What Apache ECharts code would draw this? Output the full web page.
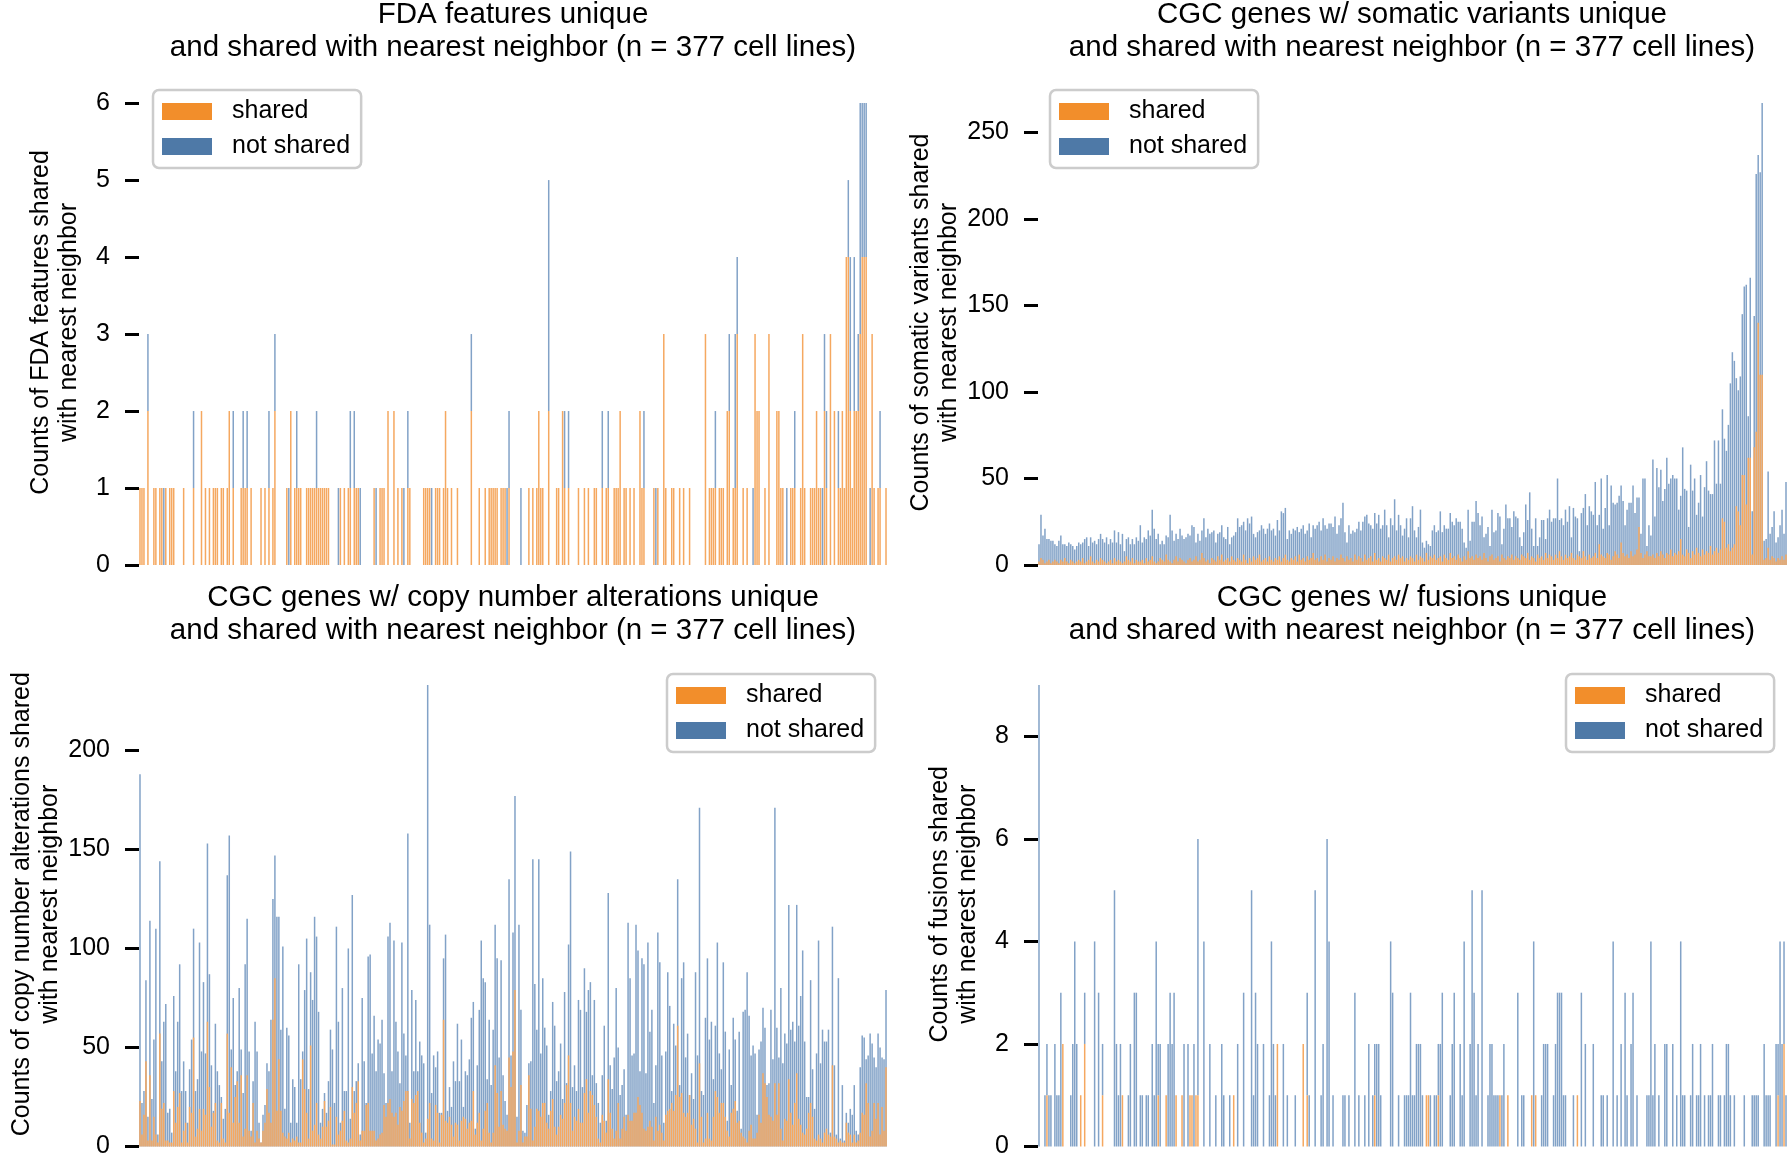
<!DOCTYPE html>
<html><head><meta charset="utf-8">
<script src="https://cdn.jsdelivr.net/npm/echarts@6/dist/echarts.min.js"></script>
<style>html,body{margin:0;padding:0;background:#fff}#c{width:1787px;height:1159px}</style>
</head><body><div id="c"></div>
<script>
// ---------- DATA ----------
// Panel 1: FDA features (stacked: shared + not shared)
const fdaShared = [
1,1,1,0,2,0,0,1,1,0,1,1,0,1,0,1,1,1,0,0,
0,0,1,0,0,0,0,1,0,0,0,2,0,1,0,1,0,1,1,1,
0,1,1,0,1,2,0,1,0,0,0,1,1,1,1,0,1,0,0,0,
0,1,0,1,0,1,0,1,2,0,0,0,0,0,1,0,2,0,1,1,
1,1,0,0,1,1,1,1,1,1,1,1,1,1,1,1,0,0,0,0,
0,1,0,1,0,1,1,0,1,1,1,0,0,0,0,0,0,0,1,0,
0,1,1,1,0,2,0,0,2,0,1,0,1,0,0,1,1,0,0,0,
0,0,0,1,1,1,1,0,0,1,1,1,0,1,2,1,0,1,0,0,
1,0,0,0,0,0,0,2,0,0,0,1,0,0,1,0,1,1,1,1,
1,0,1,1,1,0,1,0,0,0,0,0,0,0,0,0,1,0,1,0,
1,2,1,1,0,0,2,0,0,0,1,1,0,2,1,0,1,0,0,0,
0,1,0,0,1,0,1,0,0,1,1,0,0,1,0,1,1,0,0,1,
1,1,2,0,1,1,0,1,0,1,0,0,2,1,1,0,0,0,0,1,
0,1,0,0,3,1,0,0,1,1,0,0,1,0,1,0,0,1,0,0,
0,0,0,0,0,3,0,1,1,1,1,0,1,1,1,0,2,2,0,1,
1,3,0,0,1,0,1,0,0,0,3,2,2,0,0,1,0,3,0,0,
0,2,2,1,1,0,0,0,1,1,1,0,0,1,3,1,0,0,1,1,
1,2,1,1,0,2,1,0,3,0,2,0,1,1,2,1,4,4,2,1,
2,2,2,3,4,4,4,0,0,3,1,0,1,1,0,0,1];
const fdaNotShared = [
0,0,0,0,1,0,0,0,0,0,0,0,1,0,0,0,0,0,0,0,
0,0,0,0,0,0,0,1,0,0,0,0,0,0,0,0,0,0,0,0,
0,0,0,0,0,0,0,1,0,0,0,0,1,0,1,0,0,0,0,0,
0,0,0,0,0,1,0,0,1,0,0,0,0,0,0,1,0,0,0,1,
0,0,0,0,0,0,0,0,0,1,0,0,0,0,0,0,0,0,0,0,
1,0,0,0,0,0,1,0,1,0,0,1,0,0,0,0,0,0,0,1,
0,0,0,0,0,0,0,0,0,0,0,0,0,1,0,1,0,0,0,0,
0,0,0,0,0,0,0,1,0,0,0,0,0,0,0,0,0,0,0,0,
0,0,0,0,0,0,0,1,0,0,0,0,0,0,0,0,0,0,0,0,
0,0,0,0,0,1,1,0,0,0,0,0,1,0,0,0,0,0,0,0,
0,0,0,0,0,0,3,0,0,0,0,0,0,0,1,0,1,0,0,0,
0,0,0,0,0,0,0,0,0,0,0,0,0,1,0,0,1,0,0,0,
0,0,0,0,0,0,0,0,0,0,0,0,0,0,1,0,0,0,0,0,
1,0,0,0,0,0,0,0,0,0,0,0,0,0,0,0,0,0,0,0,
0,0,0,0,0,0,0,0,0,0,1,0,0,0,0,0,0,1,0,0,
2,1,0,0,0,0,0,0,0,1,0,0,0,0,0,0,0,0,0,0,
0,0,0,0,0,0,1,0,0,0,1,0,0,0,0,0,0,0,0,0,
0,0,0,0,1,1,1,0,0,0,0,0,1,0,0,0,0,1,2,0,
2,0,1,3,2,2,2,0,1,0,0,0,0,1,0,0,0];

// Panel 2: CGC genes w/ somatic variants (bar total height, and shared part)
const somTotal = [
12,29,17,21,15,15,14,14,12,11,14,17,12,12,11,13,12,11,9,11,
13,12,13,15,16,11,16,13,14,12,15,18,15,13,16,12,15,13,20,13,
19,12,18,8,15,16,12,15,12,16,14,23,13,16,15,20,17,32,21,15,
18,12,14,12,17,16,29,20,14,18,15,21,17,15,16,18,17,23,22,13,
18,14,20,27,16,21,18,19,20,13,18,19,23,16,15,22,12,16,17,19,
27,22,23,25,20,27,24,28,18,16,19,20,23,21,18,21,24,20,21,17,
26,20,31,30,33,15,20,18,21,20,22,19,21,23,18,20,24,16,23,21,
23,25,20,27,23,21,24,24,22,28,18,23,27,36,19,13,23,18,20,19,
21,25,20,25,28,29,24,23,21,30,24,29,21,23,32,23,16,27,23,38,
20,29,23,17,21,27,16,27,34,20,16,22,32,13,10,14,12,11,20,23,
19,20,31,19,23,21,21,30,25,23,27,25,25,21,13,10,32,14,25,25,
37,30,23,28,16,18,22,11,32,19,20,30,28,12,21,35,27,27,22,31,
28,27,16,11,19,35,26,42,21,11,27,11,16,26,26,15,27,32,25,27,
27,50,26,27,23,32,25,34,16,33,28,27,8,30,33,41,23,34,31,29,
48,23,29,50,21,33,52,23,46,36,35,36,40,46,37,23,32,36,36,46,
30,39,39,18,50,50,11,23,17,61,28,56,45,55,37,44,62,47,50,52,
50,50,32,40,68,44,43,22,58,43,50,29,36,52,28,45,60,43,41,41,
72,47,72,47,90,73,66,81,105,123,118,108,101,109,145,161,162,86,166,31,
144,226,237,227,267,14,15,54,18,22,31,13,16,23,32,18,48];
const somShared = [
2,4,3,1,2,3,1,2,3,2,1,3,2,4,2,1,3,2,1,2,
3,2,4,1,2,3,5,2,1,3,2,4,3,2,1,2,3,1,4,2,
3,2,1,2,5,3,2,4,1,3,2,2,3,1,4,2,3,5,2,1,
2,4,3,2,6,3,2,1,3,5,2,4,3,2,1,3,4,2,3,5,
2,3,7,4,2,3,1,4,3,2,5,3,6,2,3,4,2,5,3,2,
4,3,2,6,3,1,4,2,5,3,4,6,2,3,4,2,5,3,2,4,
3,5,2,4,6,3,2,4,3,5,2,6,3,4,2,5,3,4,7,3,
4,2,5,3,6,2,4,3,5,2,4,3,6,4,2,5,3,4,2,6,
3,5,4,2,6,3,4,5,2,7,3,4,2,5,4,3,6,2,4,5,
3,6,4,5,2,4,3,5,4,2,6,3,5,4,2,7,3,5,4,6,
3,4,5,2,6,4,3,7,4,5,3,6,4,2,5,3,8,4,5,3,
6,4,5,3,7,4,2,5,6,3,4,5,2,6,4,3,5,4,6,3,
5,4,3,6,5,4,7,3,5,4,2,6,4,5,3,7,4,6,5,3,
6,4,8,5,3,6,4,5,7,4,3,6,5,4,8,5,3,6,4,5,
7,4,12,6,5,4,7,6,3,5,8,6,4,13,7,5,6,4,8,5,
6,9,22,7,4,6,8,5,5,6,4,7,5,8,6,4,7,6,9,5,
7,6,8,15,6,5,9,7,4,8,6,10,7,5,9,6,8,7,11,6,
8,10,7,9,27,25,10,12,8,10,12,34,31,23,52,52,35,62,62,6,
68,77,140,110,110,3,4,10,3,5,4,2,4,3,5,3,6];

// Panel 3: CGC genes w/ copy number alterations (bar total height, and shared part)
const cnaTotal = [
188,22,28,84,15,114,24,54,110,6,144,43,63,72,17,19,7,76,38,63,
92,28,43,28,12,39,54,110,28,34,103,48,83,47,153,87,41,18,62,38,
31,25,14,19,137,157,49,75,31,38,80,49,27,92,115,48,8,33,63,48,
12,2,16,21,42,38,64,125,147,116,116,59,101,19,60,56,12,34,30,12,
92,34,48,79,105,29,88,74,116,106,68,12,19,27,17,33,59,49,22,111,
63,12,80,28,28,100,14,127,28,33,42,6,75,43,22,96,97,47,66,38,
54,52,64,37,22,106,113,38,104,63,48,32,103,57,46,158,12,79,38,74,
38,53,46,42,7,233,112,27,46,40,48,17,17,95,107,18,30,20,43,33,
62,33,54,20,38,36,44,65,73,9,41,69,104,85,83,34,64,31,59,112,
95,45,94,36,23,16,135,46,108,177,15,112,69,8,7,21,42,43,145,82,
59,145,47,85,60,51,16,28,73,61,33,38,52,24,78,32,102,149,30,41,
28,74,69,30,90,68,79,83,36,74,32,22,12,36,61,13,128,41,29,45,
80,50,26,31,39,16,113,85,46,47,112,99,38,95,92,37,103,58,69,22,
41,108,93,46,12,48,88,71,28,62,51,135,31,85,93,45,57,26,37,24,
88,46,171,28,26,65,95,54,63,34,61,103,47,39,93,58,13,49,31,65,
54,18,58,9,68,69,88,66,46,51,47,16,49,53,70,60,31,32,69,44,
171,60,45,80,42,57,52,122,59,63,53,122,61,76,99,53,25,25,84,39,
19,47,104,42,59,53,53,59,7,111,41,6,85,4,31,3,17,12,19,16,
31,8,6,40,56,55,44,46,57,52,45,40,57,50,45,44,79];
const cnaShared = [
23,6,16,43,3,36,3,15,6,2,57,19,22,3,3,2,2,28,12,20,
27,2,8,12,2,20,17,55,5,9,19,8,19,16,63,30,10,17,22,3,
2,22,4,2,57,17,40,12,25,33,12,36,5,9,36,8,5,22,2,8,
4,2,8,12,29,17,12,64,85,18,44,18,7,5,4,7,2,4,3,5,
2,2,44,29,17,4,51,8,11,22,6,4,10,23,10,13,20,1,1,15,
6,8,13,18,3,2,4,30,17,22,33,3,8,8,21,22,8,8,8,3,
4,6,7,21,15,22,24,17,15,17,11,20,18,23,28,28,4,24,22,26,
28,12,7,2,4,14,22,4,3,21,17,2,16,64,13,12,15,11,5,12,
11,3,13,15,14,9,12,13,28,6,12,17,3,9,18,22,7,2,7,41,
27,10,28,11,9,8,45,30,48,79,2,8,31,2,5,5,36,19,3,10,
19,18,15,22,22,12,9,18,24,10,6,10,16,14,22,31,46,22,8,15,
13,19,12,12,27,34,17,28,26,21,15,4,2,16,13,7,34,17,9,4,
8,22,4,9,15,8,16,13,13,17,17,25,21,17,9,8,10,13,10,3,
15,8,11,7,3,16,18,19,22,18,26,61,25,27,17,15,17,26,11,14,
9,2,42,15,2,4,17,4,3,15,28,25,17,22,22,15,8,5,17,19,
23,12,13,7,5,4,2,8,11,4,4,7,16,12,37,32,25,16,15,13,
32,16,32,9,3,14,13,34,17,11,22,37,14,11,7,6,9,17,22,15,
4,3,6,4,2,7,9,6,5,41,5,4,2,3,2,2,12,7,6,2,
6,2,3,7,17,16,32,22,5,8,22,14,22,6,20,8,40];

// Panel 4: CGC genes w/ fusions (stacked: shared + not shared)
const fusShared = [
0,0,0,0,1,0,0,0,0,0,0,0,2,0,0,0,0,0,0,0,
0,1,0,2,0,0,0,0,0,0,0,0,1,0,0,0,0,0,0,0,
0,0,1,0,0,0,0,0,0,0,0,0,0,0,0,0,0,0,0,0,
1,0,0,0,1,0,0,0,0,1,0,0,1,0,0,0,1,1,0,1,
1,0,0,0,0,0,0,0,0,0,0,0,0,0,0,0,0,0,1,0,
0,0,0,0,0,0,0,0,0,0,0,0,0,0,0,0,0,0,0,0,
2,0,0,0,0,0,0,0,0,0,0,0,0,2,0,1,0,0,0,0,
0,0,0,0,0,0,0,0,0,0,0,0,0,0,0,0,0,0,0,0,
0,0,0,0,0,0,0,0,0,1,0,0,0,0,0,0,0,0,0,0,
0,0,0,0,0,0,0,0,0,0,0,0,0,0,0,1,1,0,0,0,
0,1,0,0,0,0,0,0,0,0,0,0,0,0,0,0,0,0,0,0,
0,0,0,0,0,0,0,0,0,0,0,0,1,0,0,0,1,0,0,0,
0,0,0,0,0,0,0,0,1,0,1,0,0,0,0,0,0,0,0,0,
0,0,0,0,0,0,0,0,0,0,0,1,0,0,0,0,0,0,0,0,
0,0,0,0,0,0,0,0,0,0,0,0,0,0,0,0,0,0,0,0,
0,0,0,0,0,0,0,0,0,0,0,0,0,0,0,0,0,0,0,0,
0,0,0,0,0,0,0,0,0,0,0,0,0,0,0,0,0,0,0,0,
0,0,0,0,0,0,0,0,0,0,0,0,0,0,0,0,0,0,0,0,
0,0,0,0,0,0,0,0,0,0,0,0,1,0,0,2,0];
const fusNotShared = [
9,0,0,1,1,1,1,0,2,1,1,3,0,0,0,0,1,2,4,2,
0,0,0,1,0,0,0,0,4,0,3,0,1,0,0,0,0,0,5,2,
1,2,0,0,0,1,2,0,3,3,0,1,1,0,1,1,0,2,1,4,
1,2,0,0,0,2,3,2,3,0,0,0,0,2,0,2,0,0,2,0,
5,0,0,4,0,0,2,0,0,1,0,0,2,1,0,0,1,0,0,0,
2,0,0,3,0,0,0,5,1,3,2,0,0,2,0,0,1,4,2,1,
0,0,0,2,0,1,0,0,0,1,0,0,0,0,0,2,1,0,0,5,
0,0,1,2,0,6,4,0,1,0,0,0,0,1,1,0,1,0,0,3,
0,1,0,0,1,0,2,0,1,1,2,2,1,0,0,0,0,4,3,0,
0,1,0,0,1,1,1,3,1,1,2,2,2,1,0,0,0,1,0,1,
1,1,2,3,0,0,0,1,2,3,0,0,2,1,4,0,0,2,5,3,
1,2,0,5,0,0,1,2,2,1,1,1,0,1,2,0,0,0,0,0,
0,3,0,1,1,0,0,0,0,4,0,0,0,1,2,2,2,0,0,1,
2,3,3,3,1,1,0,0,0,1,0,0,0,3,0,2,0,0,0,2,
0,0,0,1,1,0,1,0,0,4,0,1,0,2,0,3,1,0,2,3,
0,1,0,0,0,0,1,1,4,1,2,0,1,0,0,2,2,0,0,2,
0,1,0,4,1,1,0,0,1,2,0,1,1,2,0,1,0,1,1,2,
0,0,1,1,0,1,2,2,1,0,1,0,0,0,0,1,0,0,0,1,
1,1,1,0,0,2,1,1,1,0,0,2,1,4,2,2,1];

const cellLines = fdaShared.map((_, i) => 'cell ' + (i + 1));
const titles = [
  'FDA features unique\nand shared with nearest neighbor (n = 377 cell lines)',
  'CGC genes w/ somatic variants unique\nand shared with nearest neighbor (n = 377 cell lines)',
  'CGC genes w/ copy number alterations unique\nand shared with nearest neighbor (n = 377 cell lines)',
  'CGC genes w/ fusions unique\nand shared with nearest neighbor (n = 377 cell lines)'
];
const yNames = [
  'Counts of FDA features shared\nwith nearest neighbor',
  'Counts of somatic variants shared\nwith nearest neighbor',
  'Counts of copy number alterations shared\nwith nearest neighbor',
  'Counts of fusions shared\nwith nearest neighbor'
];
const yTicks = [[0,1,2,3,4,5,6],[0,50,100,150,200,250],[0,50,100,150,200],[0,2,4,6,8]];
const legendNames = ['shared', 'not shared'];

// ---------- LAYOUT / STYLE ----------
const FONT = '"Liberation Sans", Arial, Helvetica, sans-serif';
const ORANGE = '#F28E2B', BLUE = '#4E79A7';
const BAR_ORANGE = '#F5A860', BAR_BLUE = '#82A2C7';
const grids = [
  {left: 139, top: 80, width: 748, height: 485},
  {left: 1038, top: 80, width: 749, height: 485},
  {left: 139, top: 662, width: 748, height: 486},
  {left: 1038, top: 662, width: 749, height: 487}
];
const titlePos = [[513, -2], [1412, -2], [513, 581], [1412, 581]];
const legendPos = [[153, 90], [1050, 90], [667, 674], [1566, 674]];

const panelMax = [
  Math.max(...fdaShared.map((v, i) => v + fdaNotShared[i])),
  Math.max(...somTotal),
  Math.max(...cnaTotal),
  Math.max(...fusShared.map((v, i) => v + fusNotShared[i]))
];

const chart = echarts.init(document.getElementById('c'), null, {renderer: 'canvas'});
const series = [];
function bar(name, data, gi, color, extra) {
  return Object.assign({
    type: 'bar', name, data, xAxisIndex: gi, yAxisIndex: gi,
    barWidth: 1.5, itemStyle: {color}, silent: true,
    emphasis: {disabled: true}
  }, extra || {});
}
// stacked panels
series.push(bar('shared', fdaShared, 0, BAR_ORANGE, {stack: 'p0'}));
series.push(bar('not shared', fdaNotShared, 0, BAR_BLUE, {stack: 'p0'}));
// overlaid panels: total (blue) behind, shared (orange) in front
series.push(bar('not shared', somTotal, 1, BAR_BLUE, {z: 2, barGap: '-100%'}));
series.push(bar('shared', somShared, 1, BAR_ORANGE, {z: 3, barGap: '-100%'}));
series.push(bar('not shared', cnaTotal, 2, BAR_BLUE, {z: 2, barGap: '-100%'}));
series.push(bar('shared', cnaShared, 2, BAR_ORANGE, {z: 3, barGap: '-100%'}));
series.push(bar('shared', fusShared, 3, BAR_ORANGE, {stack: 'p3'}));
series.push(bar('not shared', fusNotShared, 3, BAR_BLUE, {stack: 'p3'}));

const option = {
  animation: false,
  backgroundColor: '#ffffff',
  textStyle: {fontFamily: FONT},
  title: titles.map((t, i) => ({
    text: t, left: titlePos[i][0], top: titlePos[i][1], textAlign: 'center', padding: 0,
    textStyle: {fontSize: 29.5, fontWeight: 'normal', lineHeight: 33, color: '#000', fontFamily: FONT}
  })),
  grid: grids,
  xAxis: grids.map((g, i) => ({
    type: 'category', gridIndex: i, data: cellLines, boundaryGap: true, show: false
  })),
  yAxis: grids.map((g, i) => ({
    type: 'value', gridIndex: i, min: 0, max: panelMax[i] * 1.05,
    axisLine: {show: false}, splitLine: {show: false},
    axisTick: {show: true, length: 14, lineStyle: {width: 3, color: '#000'}, customValues: yTicks[i]},
    axisLabel: {customValues: yTicks[i], fontSize: 25, color: '#000', fontFamily: FONT, margin: 29},
    name: yNames[i], nameLocation: 'middle', nameGap: 56,
    nameTextStyle: {fontSize: 25, lineHeight: 28, color: '#000', fontFamily: FONT}
  })),
  legend: legendPos.map(p => ({
    left: p[0], top: p[1], orient: 'vertical', selectedMode: false,
    itemWidth: 50, itemHeight: 17, itemGap: 10, padding: [9, 11, 9, 9],
    borderColor: '#cccccc', borderWidth: 2.5, borderRadius: 6, backgroundColor: '#ffffff',
    textStyle: {fontSize: 25, color: '#000', fontFamily: FONT, padding: [0, 0, 0, 15]},
    data: [
      {name: legendNames[0], icon: 'rect', itemStyle: {color: ORANGE, opacity: 1, borderWidth: 0}},
      {name: legendNames[1], icon: 'rect', itemStyle: {color: BLUE, opacity: 1, borderWidth: 0}}
    ]
  })),
  series
};
chart.setOption(option);
</script>
</body></html>
